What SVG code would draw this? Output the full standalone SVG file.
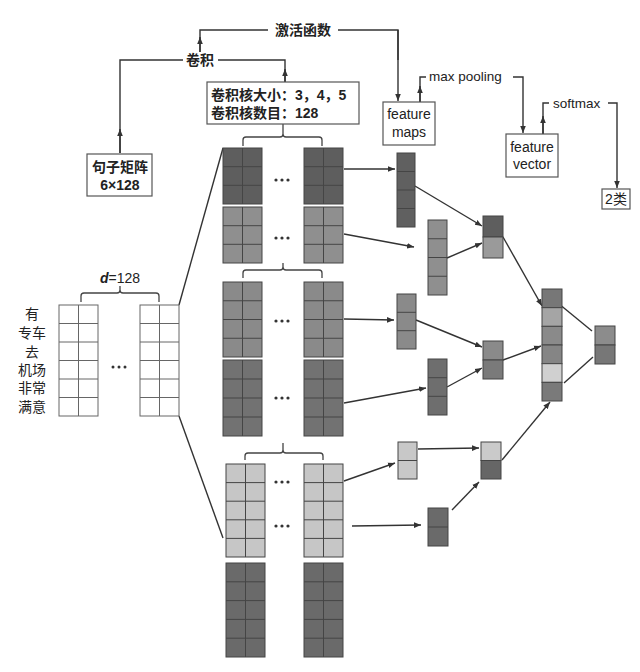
<svg xmlns="http://www.w3.org/2000/svg" width="640" height="672" viewBox="0 0 640 672">
<defs>
<marker id="ah" viewBox="0 0 10 10" refX="10" refY="5" markerWidth="7" markerHeight="7" orient="auto" markerUnits="userSpaceOnUse"><path d="M0 1L10 5L0 9z" fill="#333"/></marker>
</defs>
<style>
text{font-family:"Liberation Sans","Noto Sans CJK SC",sans-serif;fill:#222}
.lbl{font-size:14px;text-anchor:middle}
.bd{font-weight:bold}
.box{fill:#fff;stroke:#555;stroke-width:1.2}
.blk{stroke:#454545;stroke-width:1}
.grid{stroke:#454545;stroke-width:1;fill:none}
.wgrid{stroke:#666;stroke-width:1;fill:none}
.ln{stroke:#333;stroke-width:1.4;fill:none}
.arr{stroke:#333;stroke-width:1.4;fill:none;marker-end:url(#ah)}
.br{stroke:#444;stroke-width:1.3;fill:none}
.dot{fill:#333}
</style>
<rect width="640" height="672" fill="#fff"/>

<g id="connectors">
  <path class="ln" d="M200 52V30H268"/>
  <path class="arr" d="M200 52V37"/>
  <path class="ln" d="M338 30H398V60"/>
  <path class="arr" d="M398 30V101"/>
  <path class="ln" d="M120 153V60H183"/>
  <path class="arr" d="M120 153V129"/>
  <path class="ln" d="M218 60H285V82"/>
  <path class="arr" d="M285 82V69"/>
  <path class="ln" d="M420 102V77H426"/>
  <path class="arr" d="M420 102V86"/>
  <path class="arr" d="M513 77H523V133"/>
  <path class="ln" d="M543 134V103H549"/>
  <path class="arr" d="M543 134V116"/>
  <path class="arr" d="M608 103H617V188"/>
  <path class="ln" d="M179 305L223 148"/>
  <path class="ln" d="M179 416L223 538"/>
  <path class="arr" d="M344 169H395"/>
  <path class="arr" d="M344 234L414 247"/>
  <path class="arr" d="M344 319L394 320"/>
  <path class="arr" d="M344 403L426 388"/>
  <path class="arr" d="M344 481L395 463"/>
  <path class="arr" d="M352 526L421 525"/>
  <path class="arr" d="M415 186L482 226"/>
  <path class="arr" d="M447 258L482 243"/>
  <path class="arr" d="M503 237L542 306"/>
  <path class="arr" d="M416 320L482 347"/>
  <path class="arr" d="M447 387L482 368"/>
  <path class="arr" d="M503 360L541 346"/>
  <path class="arr" d="M418 449L479 448"/>
  <path class="arr" d="M452 510L479 482"/>
  <path class="arr" d="M502 460L550 402"/>
  <path class="ln" d="M553 299L592 331"/>
  <path class="ln" d="M564 383L593 357"/>
  <path class="br" d="M243 146V140Q243 137 246 137H280Q283 137 283 134V124M283 134Q283 137 286 137H319Q322 137 322 140V146"/>
  <path class="br" d="M243 278V273Q243 270 246 270H280Q283 270 283 267V263M283 267Q283 270 286 270H319Q322 270 322 273V278"/>
  <path class="br" d="M245 460V456Q245 453 248 453H280Q283 453 283 450V443M283 450Q283 453 286 453H320Q323 453 323 456V460"/>
  <path class="br" d="M81 302V296Q81 293 84 293H117Q120 293 120 290V286M120 290Q120 293 123 293H156Q159 293 159 296V302"/>
</g>

<g id="label-activation"><text class="lbl bd" x="303" y="35" font-size="15">激活函数</text></g>
<g id="label-conv"><text class="lbl bd" x="200" y="65" font-size="15">卷积</text></g>
<g id="label-maxpool"><text x="429" y="81" font-size="13.5">max pooling</text></g>
<g id="label-softmax"><text x="553" y="108" font-size="13.5">softmax</text></g>

<g id="conv-params">
  <rect class="box" x="207" y="82" width="152" height="42"/>
  <text class="bd" x="211" y="100" font-size="14">卷积核大小：3，4，5</text>
  <text class="bd" x="211" y="118" font-size="14">卷积核数目：128</text>
</g>

<g id="sentence-matrix">
  <rect class="box" x="87" y="154" width="65" height="42"/>
  <text class="lbl bd" x="120" y="172">句子矩阵</text>
  <text class="lbl bd" x="120" y="190">6×128</text>
</g>

<g id="feature-maps-box">
  <rect class="box" x="383" y="102" width="52" height="43"/>
  <text class="lbl" x="409" y="119" font-size="13">feature</text>
  <text class="lbl" x="409" y="137" font-size="13">maps</text>
</g>

<g id="feature-vector-box">
  <rect class="box" x="506" y="134" width="52" height="43"/>
  <text class="lbl" x="532" y="152" font-size="13">feature</text>
  <text class="lbl" x="532" y="169" font-size="13">vector</text>
</g>

<g id="classes-box">
  <rect class="box" x="602" y="189" width="28" height="20"/>
  <text class="lbl" x="616" y="204" font-size="13">2类</text>
</g>

<g id="words">
  <text class="lbl" x="32" y="319" font-size="13">有</text>
  <text class="lbl" x="32" y="338" font-size="13">专车</text>
  <text class="lbl" x="32" y="357" font-size="13">去</text>
  <text class="lbl" x="32" y="375" font-size="13">机场</text>
  <text class="lbl" x="32" y="393" font-size="13">非常</text>
  <text class="lbl" x="32" y="412" font-size="13">满意</text>
</g>

<g id="input-matrix">
  <text class="lbl" x="120" y="283" font-size="15"><tspan font-weight="bold" font-style="italic">d</tspan>=128</text>
  <rect x="59" y="305" width="39" height="111" fill="#fff" stroke="#666"/>
  <path class="wgrid" d="M78.5 305V416M59 323.5H98M59 342H98M59 360.5H98M59 379H98M59 397.5H98"/>
  <rect x="140" y="305" width="39" height="111" fill="#fff" stroke="#666"/>
  <path class="wgrid" d="M159.5 305V416M140 323.5H179M140 342H179M140 360.5H179M140 379H179M140 397.5H179"/>
  <circle class="dot" cx="113" cy="367" r="1.5"/><circle class="dot" cx="119" cy="367" r="1.5"/><circle class="dot" cx="125" cy="367" r="1.5"/>
</g>

<g id="filters-size3">
  <rect class="blk" x="223" y="148" width="39" height="56" fill="#5e5e5e"/>
  <path class="grid" d="M242.5 148V204M223 166.7H262M223 185.3H262"/>
  <rect class="blk" x="304" y="148" width="39" height="56" fill="#5e5e5e"/>
  <path class="grid" d="M323.5 148V204M304 166.7H343M304 185.3H343"/>
  <rect class="blk" x="223" y="207" width="39" height="56" fill="#8f8f8f"/>
  <path class="grid" d="M242.5 207V263M223 225.7H262M223 244.3H262"/>
  <rect class="blk" x="304" y="207" width="39" height="56" fill="#8f8f8f"/>
  <path class="grid" d="M323.5 207V263M304 225.7H343M304 244.3H343"/>
  <circle class="dot" cx="276" cy="180" r="1.6"/><circle class="dot" cx="282" cy="180" r="1.6"/><circle class="dot" cx="288" cy="180" r="1.6"/>
  <circle class="dot" cx="276" cy="238" r="1.6"/><circle class="dot" cx="282" cy="238" r="1.6"/><circle class="dot" cx="288" cy="238" r="1.6"/>
</g>

<g id="filters-size4">
  <rect class="blk" x="223" y="282" width="39" height="75" fill="#8a8a8a"/>
  <path class="grid" d="M242.5 282V357M223 300.75H262M223 319.5H262M223 338.25H262"/>
  <rect class="blk" x="304" y="282" width="39" height="75" fill="#8a8a8a"/>
  <path class="grid" d="M323.5 282V357M304 300.75H343M304 319.5H343M304 338.25H343"/>
  <rect class="blk" x="223" y="360" width="39" height="76" fill="#727272"/>
  <path class="grid" d="M242.5 360V436M223 379H262M223 398H262M223 417H262"/>
  <rect class="blk" x="304" y="360" width="39" height="76" fill="#727272"/>
  <path class="grid" d="M323.5 360V436M304 379H343M304 398H343M304 417H343"/>
  <circle class="dot" cx="276" cy="321" r="1.6"/><circle class="dot" cx="282" cy="321" r="1.6"/><circle class="dot" cx="288" cy="321" r="1.6"/>
  <circle class="dot" cx="276" cy="398" r="1.6"/><circle class="dot" cx="282" cy="398" r="1.6"/><circle class="dot" cx="288" cy="398" r="1.6"/>
</g>

<g id="filters-size5">
  <rect class="blk" x="226" y="464" width="39" height="93" fill="#c6c6c6"/>
  <path class="grid" d="M245.5 464V557M226 482.6H265M226 501.2H265M226 519.8H265M226 538.4H265"/>
  <rect class="blk" x="304" y="464" width="39" height="93" fill="#c6c6c6"/>
  <path class="grid" d="M323.5 464V557M304 482.6H343M304 501.2H343M304 519.8H343M304 538.4H343"/>
  <rect class="blk" x="226" y="563" width="39" height="94" fill="#6a6a6a"/>
  <path class="grid" d="M245.5 563V657M226 581.8H265M226 600.6H265M226 619.4H265M226 638.2H265"/>
  <rect class="blk" x="304" y="563" width="39" height="94" fill="#6a6a6a"/>
  <path class="grid" d="M323.5 563V657M304 581.8H343M304 600.6H343M304 619.4H343M304 638.2H343"/>
  <circle class="dot" cx="276" cy="482" r="1.6"/><circle class="dot" cx="282" cy="482" r="1.6"/><circle class="dot" cx="288" cy="482" r="1.6"/>
  <circle class="dot" cx="276" cy="526" r="1.6"/><circle class="dot" cx="282" cy="526" r="1.6"/><circle class="dot" cx="288" cy="526" r="1.6"/>
</g>

<g id="fmap1"><rect class="blk" x="397" y="153" width="18" height="74" fill="#606060"/><path class="grid" d="M397 171.5H415M397 190H415M397 208.5H415"/></g>
<g id="fmap2"><rect class="blk" x="428" y="220" width="19" height="75" fill="#8f8f8f"/><path class="grid" d="M428 238.75H447M428 257.5H447M428 276.25H447"/></g>
<g id="fmap3"><rect class="blk" x="397" y="294" width="19" height="55" fill="#8a8a8a"/><path class="grid" d="M397 312.3H416M397 330.7H416"/></g>
<g id="fmap4"><rect class="blk" x="428" y="359" width="19" height="56" fill="#6e6e6e"/><path class="grid" d="M428 377.7H447M428 396.3H447"/></g>
<g id="fmap5"><rect class="blk" x="398" y="442" width="19" height="37" fill="#c8c8c8"/><path class="grid" d="M398 460.5H417"/></g>
<g id="fmap6"><rect class="blk" x="428" y="508" width="20" height="38" fill="#6a6a6a"/><path class="grid" d="M428 527H448"/></g>

<g id="pool1"><rect class="blk" x="483" y="216" width="20" height="21" fill="#5e5e5e"/><rect class="blk" x="483" y="237" width="20" height="21" fill="#9a9a9a"/></g>
<g id="pool2"><rect class="blk" x="483" y="341" width="20" height="19" fill="#8a8a8a"/><rect class="blk" x="483" y="360" width="20" height="19" fill="#7a7a7a"/></g>
<g id="pool3"><rect class="blk" x="481" y="442" width="20" height="18.5" fill="#cacaca"/><rect class="blk" x="481" y="460.5" width="20" height="18.5" fill="#666"/></g>

<g id="final-vector">
  <rect class="blk" x="542" y="289" width="20" height="18.67" fill="#777"/>
  <rect class="blk" x="542" y="307.67" width="20" height="18.67" fill="#a5a5a5"/>
  <rect class="blk" x="542" y="326.33" width="20" height="18.67" fill="#8a8a8a"/>
  <rect class="blk" x="542" y="345" width="20" height="18.67" fill="#858585"/>
  <rect class="blk" x="542" y="363.67" width="20" height="18.67" fill="#d0d0d0"/>
  <rect class="blk" x="542" y="382.33" width="20" height="18.67" fill="#7a7a7a"/>
</g>

<g id="output">
  <rect class="blk" x="595" y="326" width="20" height="19" fill="#8c8c8c"/>
  <rect class="blk" x="595" y="345" width="20" height="19" fill="#777"/>
</g>
</svg>
